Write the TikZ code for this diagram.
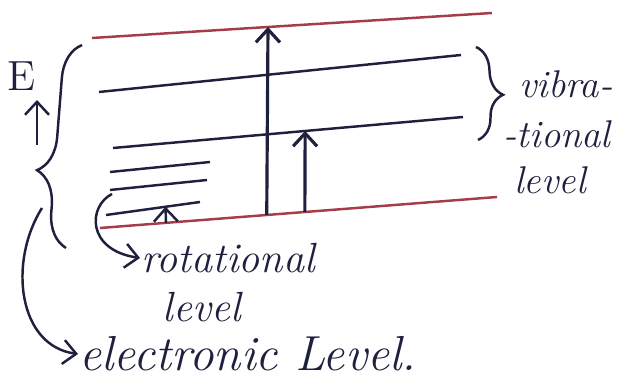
\documentclass[tikz,border=0pt]{standalone}
\usepackage{xcolor}
\usepackage{tikz}
\usetikzlibrary{arrows.meta,positioning,calc,decorations.pathreplacing}
\definecolor{inkblue}{RGB}{30, 32, 62}
\definecolor{inkred}{RGB}{165, 60, 72}

\begin{document}
\begin{tikzpicture}[x=0.1mm, y=-0.1mm, line width=0.7pt, inkblue,
    every node/.style={font=\itshape\fontsize{12}{14}\selectfont, text=inkblue, inner sep=0pt},
    >={Straight Barb[length=1.3mm,width=2.4mm]}]
    \useasboundingbox (0,0) rectangle (637,384);

    % Electronic levels
    \coordinate (eTL) at (92,38);   \coordinate (eTR) at (492,13);
    \coordinate (eBL) at (100,228); \coordinate (eBR) at (497,197);
    \draw[inkred] (eTL) -- (eTR);
    \draw[inkred] (eBL) -- (eBR);

    % Vibrational levels
    \coordinate (v2L) at (99,92);   \coordinate (v2R) at (461,55);
    \coordinate (v1L) at (113,148); \coordinate (v1R) at (463,117);
    \draw (v2L) -- (v2R);
    \draw (v1L) -- (v1R);

    % Rotational levels
    \coordinate (r3L) at (110,172); \coordinate (r3R) at (210,162);
    \coordinate (r2L) at (110,190); \coordinate (r2R) at (207,180);
    \coordinate (r1L) at (106,215); \coordinate (r1R) at (200,202);
    \draw (r3L) -- (r3R);
    \draw (r2L) -- (r2R);
    \draw (r1L) -- (r1R);

    % Transitions
    \draw[->, line width=0.9pt] ($(eBL)!0.42!(eBR)$) -- ($(eTL)!0.44!(eTR)$);
    \draw[->, line width=0.9pt] ($(eBL)!0.516!(eBR)$) -- ($(v1L)!0.549!(v1R)$);
    \draw[->] ($(eBL)!0.166!(eBR)$) -- ($(r1L)!0.634!(r1R)$);

    % Energy axis
    \node[font=\upshape\fontsize{12}{14}\selectfont] (E) at (22,76) {E};
    \coordinate (axB) at (37,145); \coordinate (axT) at (37,100);
    \draw[->] (axB) -- (axT);

    % Braces
    \coordinate (lbB) at (66,248); \coordinate (lbT) at (82,45);
    \draw[decorate, decoration={brace, amplitude=3.5mm, aspect=0.37}] (lbB) -- (lbT);
    \coordinate (rbT) at (476,47); \coordinate (rbB) at (478,140);
    \draw[decorate, decoration={brace, amplitude=2.6mm, aspect=0.52}] (rbT) -- (rbB);

    % Labels
    \node[font=\itshape\fontsize{11}{13}\selectfont] (vib1) at (566,84) {vibra-};
    \node[font=\itshape\fontsize{11}{13}\selectfont] (vib2) at (557,134) {-tional};
    \node[font=\itshape\fontsize{11}{13}\selectfont] (vib3) at (550,180) {level};
    \node (rot1) at (228,258) {rotational};
    \node (rot2) at (202,307) {level};
    \node[anchor=west, font=\itshape\fontsize{14}{16}\selectfont] (elec) at (78,354) {electronic Level.};

    % Pointers
    \coordinate (rotA) at (112,194);
    \draw[->] (rotA) .. controls (88,206) and (86,250) .. (rot1.west);
    \coordinate (elA) at (42,208);
    \draw[->] (elA) .. controls (8,262) and (18,346) .. (elec.west);
\end{tikzpicture}
\end{document}
